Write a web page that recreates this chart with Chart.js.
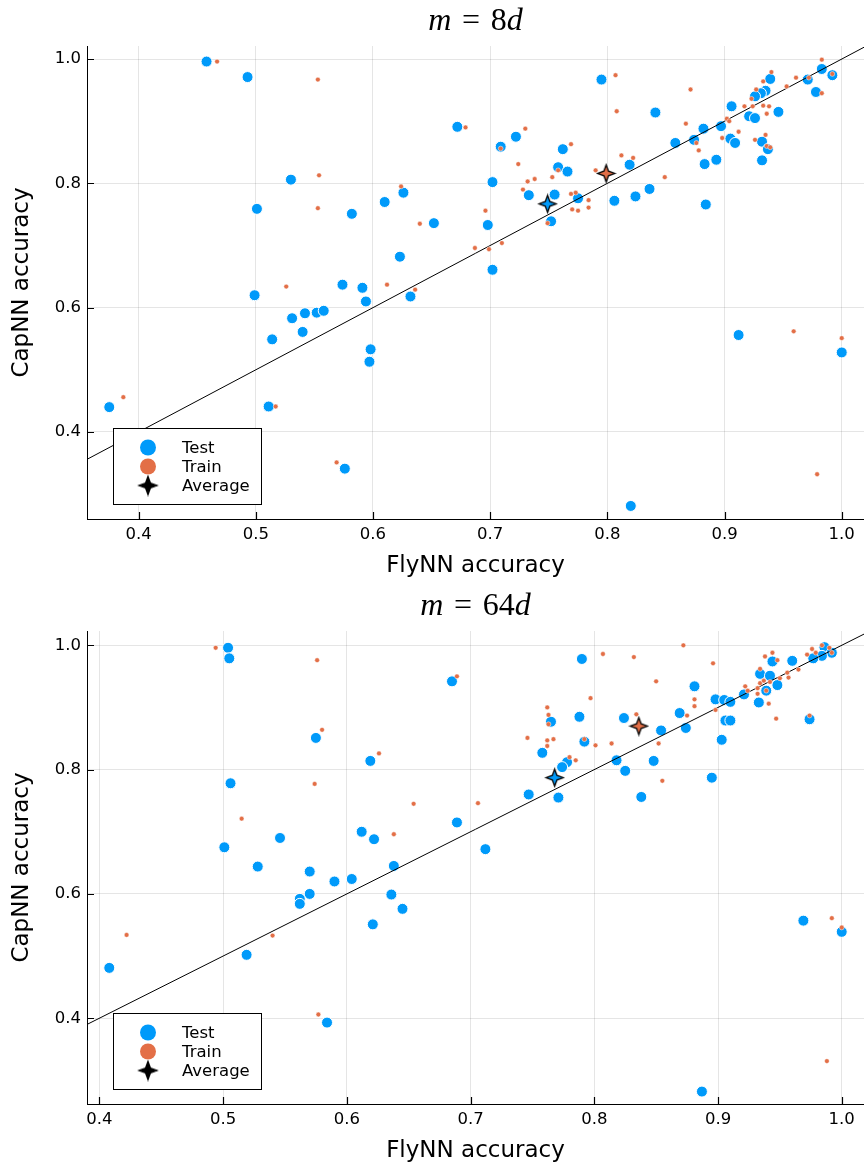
<!DOCTYPE html>
<html>
<head>
<meta charset="utf-8">
<script src="https://cdn.jsdelivr.net/npm/chart.js@4.4.0/dist/chart.umd.min.js"></script>
<style>
  body { margin: 0; background: #fff; overflow: hidden; }
  .panel { position: absolute; left: 0; width: 864px; height: 585px; }
</style>
</head>
<body>
<div class="panel" style="top:0"><canvas id="chart8" width="864" height="585"></canvas></div>
<div class="panel" style="top:585px"><canvas id="chart64" width="864" height="585"></canvas></div>
<script>
// ---- data ----
const seriesNames = ['Test', 'Train', 'Average'];
const xTicks = [0.4, 0.5, 0.6, 0.7, 0.8, 0.9, 1.0];
const yTicks = [0.4, 0.6, 0.8, 1.0];
const diagonal = [0.3, 1.1];

// m = 8d
const titleParts8 = [{ text: 'm', italic: true }, { text: '\u2004=\u20048', italic: false }, { text: 'd', italic: true }];
const xRange8 = [0.356, 1.019];
const yRange8 = [0.260, 1.021];
const test8 = [
  [0.458,0.996],[0.493,0.971],[0.530,0.806],[0.501,0.759],[0.582,0.751],[0.499,0.620],[0.574,0.637],[0.591,0.632],
  [0.594,0.610],[0.531,0.583],[0.542,0.591],[0.552,0.592],[0.558,0.595],[0.540,0.561],[0.514,0.549],[0.598,0.533],
  [0.597,0.513],[0.375,0.440],[0.511,0.441],[0.576,0.341],[0.820,0.281],[0.632,0.618],[0.912,0.556],[1.000,0.528],
  [0.795,0.967],[0.841,0.914],[0.672,0.891],[0.722,0.875],[0.709,0.859],[0.762,0.855],[0.758,0.826],[0.766,0.819],
  [0.819,0.830],[0.702,0.802],[0.626,0.785],[0.610,0.770],[0.733,0.781],[0.755,0.782],[0.775,0.776],[0.806,0.772],
  [0.824,0.779],[0.836,0.791],[0.652,0.736],[0.698,0.733],[0.752,0.739],[0.623,0.682],[0.702,0.661],
  [0.983,0.984],[0.992,0.974],[0.971,0.967],[0.978,0.947],[0.939,0.968],[0.935,0.949],[0.931,0.945],[0.926,0.940],
  [0.906,0.924],[0.946,0.915],[0.921,0.908],[0.926,0.905],[0.897,0.892],[0.882,0.888],[0.858,0.865],[0.874,0.870],
  [0.905,0.872],[0.909,0.865],[0.932,0.867],[0.937,0.855],[0.893,0.838],[0.883,0.831],[0.932,0.837],[0.884,0.766]
];
const train8 = [
  [0.467,0.996],[0.553,0.967],[0.554,0.813],[0.553,0.760],[0.526,0.634],[0.387,0.456],[0.517,0.441],[0.569,0.351],
  [0.612,0.637],[0.636,0.629],[0.959,0.562],[1.000,0.551],[0.979,0.332],
  [0.807,0.974],[0.808,0.916],[0.679,0.890],[0.730,0.888],[0.709,0.856],[0.769,0.863],[0.724,0.831],[0.812,0.845],
  [0.822,0.841],[0.758,0.821],[0.790,0.821],[0.849,0.810],[0.624,0.795],[0.732,0.803],[0.738,0.807],[0.753,0.810],
  [0.728,0.790],[0.769,0.783],[0.773,0.785],[0.784,0.773],[0.770,0.758],[0.775,0.756],[0.784,0.761],[0.696,0.756],
  [0.640,0.735],[0.749,0.736],[0.687,0.696],[0.699,0.694],[0.710,0.704],
  [0.983,0.999],[0.992,0.976],[0.940,0.979],[0.961,0.970],[0.972,0.970],[0.953,0.956],[0.933,0.964],[0.927,0.951],
  [0.923,0.936],[0.983,0.945],[0.871,0.951],[0.917,0.924],[0.924,0.924],[0.933,0.925],[0.938,0.924],[0.936,0.912],
  [0.902,0.904],[0.904,0.900],[0.867,0.896],[0.912,0.883],[0.876,0.865],[0.935,0.878],[0.898,0.873],[0.926,0.870],
  [0.878,0.853],[0.936,0.860],[0.939,0.858]
];
const testAvg8 = [0.749, 0.767];
const trainAvg8 = [0.799, 0.816];

// m = 64d
const titleParts64 = [{ text: 'm', italic: true }, { text: '\u2004=\u200464', italic: false }, { text: 'd', italic: true }];
const xRange64 = [0.390, 1.018];
const yRange64 = [0.262, 1.023];
const test64 = [
  [0.504,0.996],[0.505,0.979],[0.575,0.851],[0.619,0.814],[0.506,0.778],[0.546,0.690],[0.501,0.675],[0.612,0.700],
  [0.622,0.688],[0.528,0.644],[0.570,0.636],[0.590,0.620],[0.604,0.624],[0.570,0.600],[0.562,0.592],[0.562,0.584],
  [0.621,0.551],[0.408,0.481],[0.519,0.502],[0.584,0.393],[0.636,0.599],[0.645,0.576],[0.638,0.645],
  [0.790,0.978],[0.685,0.942],[0.788,0.885],[0.765,0.877],[0.824,0.883],[0.854,0.863],[0.792,0.845],[0.758,0.827],
  [0.778,0.812],[0.774,0.804],[0.818,0.815],[0.825,0.798],[0.848,0.814],[0.747,0.760],[0.771,0.755],[0.838,0.756],
  [0.689,0.715],[0.712,0.672],
  [0.986,0.997],[0.992,0.988],[0.984,0.983],[0.977,0.979],[0.960,0.975],[0.944,0.974],[0.934,0.954],[0.942,0.951],
  [0.948,0.936],[0.939,0.927],[0.921,0.921],[0.933,0.908],[0.881,0.934],[0.898,0.913],[0.905,0.912],[0.910,0.909],
  [0.869,0.891],[0.874,0.867],[0.906,0.879],[0.910,0.879],[0.903,0.848],[0.974,0.881],[0.895,0.787],
  [0.969,0.557],[1.000,0.539],[0.887,0.282]
];
const train64 = [
  [0.494,0.996],[0.576,0.976],[0.580,0.864],[0.626,0.826],[0.574,0.777],[0.515,0.721],[0.422,0.534],[0.540,0.533],
  [0.577,0.406],
  [0.689,0.950],[0.807,0.986],[0.832,0.981],[0.850,0.942],[0.797,0.915],[0.762,0.900],[0.763,0.888],[0.763,0.873],
  [0.834,0.889],[0.746,0.851],[0.762,0.847],[0.767,0.849],[0.762,0.838],[0.792,0.849],[0.801,0.839],[0.814,0.842],
  [0.852,0.842],[0.780,0.820],[0.785,0.815],[0.855,0.782],[0.654,0.745],[0.706,0.746],[0.638,0.696],
  [0.872,1.000],[0.896,0.971],[0.881,0.913],[0.881,0.902],[0.875,0.887],[0.898,0.896],[0.922,0.934],[0.924,0.927],
  [0.932,0.922],[0.934,0.939],[0.937,0.943],[0.942,0.941],[0.950,0.947],[0.957,0.948],[0.956,0.956],[0.965,0.961],
  [0.934,0.962],[0.938,0.982],[0.944,0.988],[0.948,0.976],[0.939,0.927],[0.941,0.906],[0.947,0.882],[0.972,0.985],
  [0.976,0.994],[0.979,0.988],[0.984,1.000],[0.990,0.996],[0.992,0.988],[0.974,0.887],[0.932,0.931],
  [0.992,0.561],[1.000,0.546],[0.988,0.331]
];
const testAvg64 = [0.768, 0.787];
const trainAvg64 = [0.836, 0.870];

// ---- styles ----
const BLUE = '#009AFA';
const ORANGE = '#E36F47';
Chart.defaults.font.family = '"DejaVu Sans", sans-serif';
Chart.defaults.color = '#000';

function toPts(arr) {
  return arr.map(p => ({ x: p[0], y: p[1] }));
}

// 4-pointed star marker, drawn once into a small canvas
function starImage(fill, r) {
  const c = document.createElement('canvas');
  const s = Math.ceil(r * 2 + 4);
  c.width = c.height = s;
  const g = c.getContext('2d');
  g.beginPath();
  for (let i = 0; i < 8; i++) {
    const a = -Math.PI / 2 + i * Math.PI / 4;
    const rr = i % 2 === 0 ? r : r * 0.38;
    g.lineTo(s / 2 + rr * Math.cos(a), s / 2 + rr * Math.sin(a));
  }
  g.closePath();
  g.fillStyle = fill;
  g.fill();
  g.lineWidth = 1.3;
  g.strokeStyle = '#000';
  g.stroke();
  return c;
}
const starBlue = starImage(BLUE, 8.5);
const starOrange = starImage(ORANGE, 8.5);
const starBlack = starImage('#000', 9);

// title like "m = 8d" with italic math letters
const mathTitle = {
  id: 'mathTitle',
  afterDraw(chart, args, opts) {
    const { ctx, chartArea } = chart;
    const parts = opts.parts || [];
    ctx.save();
    ctx.fillStyle = '#000';
    ctx.textBaseline = 'alphabetic';
    const fonts = parts.map(p => (p.italic ? 'italic ' : '') + '32px "Liberation Serif", serif');
    let total = 0;
    const widths = parts.map((p, i) => {
      ctx.font = fonts[i];
      const w = ctx.measureText(p.text).width;
      total += w;
      return w;
    });
    let x = (chartArea.left + chartArea.right) / 2 - total / 2;
    parts.forEach((p, i) => {
      ctx.font = fonts[i];
      ctx.fillText(p.text, x, chartArea.top - 16);
      x += widths[i];
    });
    ctx.restore();
  }
};

// tick marks pointing into the plot
const innerTicks = {
  id: 'innerTicks',
  afterDraw(chart) {
    const { ctx, chartArea, scales } = chart;
    ctx.save();
    ctx.strokeStyle = '#000';
    ctx.lineWidth = 1.2;
    ctx.beginPath();
    scales.x.ticks.forEach(t => {
      const px = Math.round(scales.x.getPixelForValue(t.value)) + 0.5;
      ctx.moveTo(px, chartArea.bottom);
      ctx.lineTo(px, chartArea.bottom - 7);
    });
    scales.y.ticks.forEach(t => {
      const py = Math.round(scales.y.getPixelForValue(t.value)) + 0.5;
      ctx.moveTo(chartArea.left, py);
      ctx.lineTo(chartArea.left + 7, py);
    });
    ctx.stroke();
    ctx.restore();
  }
};

// legend box in the lower-left corner of the plot
const insideLegend = {
  id: 'insideLegend',
  afterDraw(chart) {
    const { ctx, chartArea } = chart;
    const w = 148, h = 76;
    const x0 = chartArea.left + 26, y0 = chartArea.bottom - 15 - h;
    ctx.save();
    ctx.fillStyle = '#fff';
    ctx.fillRect(x0, y0, w, h);
    ctx.strokeStyle = '#000';
    ctx.lineWidth = 1;
    ctx.strokeRect(x0 + 0.5, y0 + 0.5, w, h);
    ctx.font = '16.5px "DejaVu Sans", sans-serif';
    ctx.textBaseline = 'middle';
    ctx.textAlign = 'left';
    seriesNames.forEach((name, i) => {
      const cy = y0 + 19.5 + i * 19;
      const cx = x0 + 35;
      if (i < 2) {
        ctx.beginPath();
        ctx.arc(cx, cy, 8, 0, Math.PI * 2);
        ctx.fillStyle = i === 0 ? BLUE : ORANGE;
        ctx.fill();
      } else {
        ctx.drawImage(starBlack, cx - starBlack.width / 2, cy - starBlack.height / 2);
      }
      ctx.fillStyle = '#000';
      ctx.fillText(name, x0 + 69, cy + 1);
    });
    ctx.restore();
  }
};

function buildPanel(canvasId, p) {
  const el = document.getElementById(canvasId);
  if (!el) return;
  return new Chart(el, {
    type: 'scatter',
    data: {
      datasets: [
        { label: 'Train average', data: toPts([p.trainAvg]), pointStyle: starOrange, order: 0, clip: false },
        { label: 'Test average', data: toPts([p.testAvg]), pointStyle: starBlue, order: 1, clip: false },
        {
          label: 'Train', data: toPts(p.train), order: 2, clip: false,
          backgroundColor: ORANGE, borderColor: 'rgba(255,255,255,0.8)', borderWidth: 0.6, pointRadius: 2.4
        },
        {
          label: 'y = x', type: 'line', data: toPts(diagonal.map(v => [v, v])), order: 3,
          borderColor: '#000', borderWidth: 1, pointRadius: 0, fill: false
        },
        {
          label: 'Test', data: toPts(p.test), order: 4, clip: false,
          backgroundColor: BLUE, borderColor: '#fff', borderWidth: 1, pointRadius: 5.5
        }
      ]
    },
    options: {
      responsive: false,
      animation: false,
      events: [],
      layout: { autoPadding: false, padding: { top: 46, left: 0, right: 0, bottom: 0 } },
      scales: {
        x: {
          type: 'linear',
          min: p.xRange[0], max: p.xRange[1],
          afterBuildTicks: s => { s.ticks = xTicks.map(v => ({ value: v })); },
          afterFit: s => { s.height = 66; s.paddingLeft = 0; s.paddingRight = 0; },
          ticks: { callback: v => v.toFixed(1), font: { size: 16.5 }, padding: 6, maxRotation: 0 },
          grid: { color: 'rgba(0,0,0,0.1)', lineWidth: 1, drawTicks: false },
          border: { color: '#000', width: 1 },
          title: { display: true, text: 'FlyNN accuracy', font: { size: 23 }, padding: { top: 0, bottom: 5 } }
        },
        y: {
          type: 'linear',
          min: p.yRange[0], max: p.yRange[1],
          afterBuildTicks: s => { s.ticks = yTicks.map(v => ({ value: v })); },
          afterFit: s => { s.width = 87; s.paddingTop = 0; s.paddingBottom = 0; },
          ticks: { callback: v => v.toFixed(1), font: { size: 16.5 }, padding: 6 },
          grid: { color: 'rgba(0,0,0,0.1)', lineWidth: 1, drawTicks: false },
          border: { color: '#000', width: 1 },
          title: { display: true, text: 'CapNN accuracy', font: { size: 23 }, padding: { top: 8, bottom: 0 } }
        }
      },
      plugins: {
        legend: { display: false },
        tooltip: { enabled: false },
        mathTitle: { parts: p.title }
      }
    },
    plugins: [mathTitle, innerTicks, insideLegend]
  });
}

document.addEventListener('DOMContentLoaded', function () {
  buildPanel('chart8', {
    title: titleParts8, xRange: xRange8, yRange: yRange8,
    test: test8, train: train8, testAvg: testAvg8, trainAvg: trainAvg8
  });
  buildPanel('chart64', {
    title: titleParts64, xRange: xRange64, yRange: yRange64,
    test: test64, train: train64, testAvg: testAvg64, trainAvg: trainAvg64
  });
});
</script>
</body>
</html>
